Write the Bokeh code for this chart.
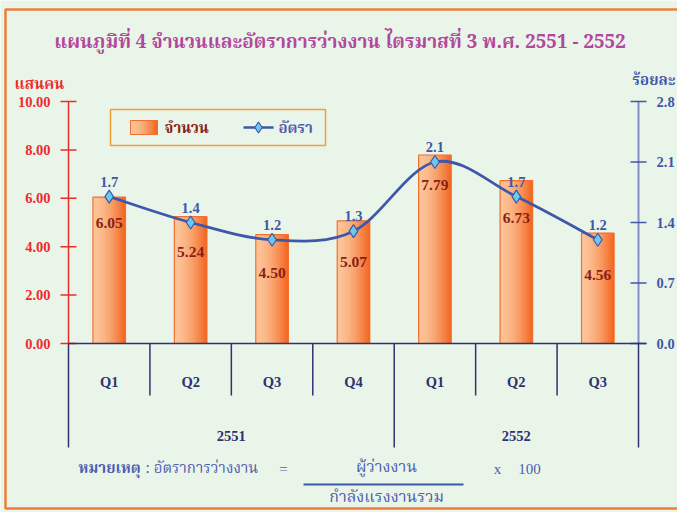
from bokeh.plotting import figure
from bokeh.models import Range1d
from bokeh.core.properties import value
from bokeh.embed import file_html
from bokeh.resources import INLINE

# ---------------- data ----------------
title_text = "แผนภูมิที่ 4 จำนวนและอัตราการว่างงาน ไตรมาสที่ 3  พ.ศ. 2551 - 2552"
years = ["2551", "2552"]
quarters_per_year = [4, 3]
quarters = ["Q1", "Q2", "Q3", "Q4", "Q1", "Q2", "Q3"]
counts = [6.05, 5.24, 4.50, 5.07, 7.79, 6.73, 4.56]
rates = [1.7, 1.4, 1.2, 1.3, 2.1, 1.7, 1.2]
count_ticks = [0, 2, 4, 6, 8, 10]
count_tick_labels = ["0.00", "2.00", "4.00", "6.00", "8.00", "10.00"]
rate_ticks = [0.0, 0.7, 1.4, 2.1, 2.8]
rate_tick_labels = ["0.0", "0.7", "1.4", "2.1", "2.8"]
left_unit = "แสนคน"
right_unit = "ร้อยละ"
legend_labels = ["จำนวน", "อัตรา"]
note_head = "หมายเหตุ"
note_body = ": อัตราการว่างงาน"
note_eq = "="
note_num = "ผู้ว่างงาน"
note_den = "กำลังแรงงานรวม"
note_x = "x"
note_100 = "100"

# ---------------- layout (pixel positions / styles) ----------------
W, H = 677, 512
LEFT, RIGHT = 68, 638
BASE, TOP = 343, 101
N = len(quarters)
YMAX = 10.0
RMAX = 2.8
PXU = (RIGHT - LEFT) / N
PYU = (BASE - TOP) / YMAX
bar_label_offsets = [26, 35, 38, 41, 30, 37, 42]   # px below bar top


def X(px):
    return (px - LEFT) / PXU


def Y(py):
    return (BASE - py) / PYU


BG = "#EAF5EA"
RED = "#EE2B2B"
NAVY = "#2F3170"
BLUE = "#3F57A8"
LBLUE = "#8390C8"
DRED = "#8A1E16"
TITLE_C = "#B2489C"
NOTE_C = "#4F5DAE"
BORDER = "#F07D3C"
SERIF = "Liberation Serif"
THAI = "Noto Serif Thai, Noto Sans Thai, Garuda, Loma, Norasi, Liberation Serif, serif"

p = figure(width=W, height=H, x_range=Range1d(X(0), X(W)), y_range=Range1d(Y(H), Y(0)),
           output_backend="svg", toolbar_location=None, min_border=0,
           x_axis_location=None, y_axis_location=None,
           background_fill_color=BG, border_fill_color=BG, outline_line_color=None)
p.xgrid.visible = False
p.ygrid.visible = False
p.extra_y_ranges = {"rate": Range1d(Y(H) * RMAX / YMAX, Y(0) * RMAX / YMAX)}

# outer orange frame
p.quad(left=[X(5)], right=[X(690)], top=[Y(9)], bottom=[Y(508)], fill_color=None,
       line_color=BORDER, line_width=2.5)

xs = [i + 0.5 for i in range(N)]

# ---------------- bars with gradient ----------------
BW = 0.4
NS = 16
c0 = (253, 196, 152)
c1 = (243, 104, 34)


def grad(k):
    t = (k / (NS - 1)) ** 1.6
    return "#%02x%02x%02x" % tuple(int(c0[j] + (c1[j] - c0[j]) * t) for j in range(3))


sl, sr, st, sc = [], [], [], []
for i, v in enumerate(counts):
    for k in range(NS):
        l = xs[i] - BW / 2 + k * BW / NS
        sl.append(l)
        sr.append(min(l + 2 * BW / NS, xs[i] + BW / 2))
        st.append(v)
        sc.append(grad(k))
p.quad(left=sl, right=sr, top=st, bottom=0, fill_color=sc, line_color=None)
p.vbar(x=xs, top=counts, width=BW, fill_color=None, line_color="#F07030", line_width=1.2)

# ---------------- axes ----------------
p.segment(x0=[0], y0=[0], x1=[0], y1=[YMAX], line_color=RED, line_width=1.5)
p.segment(x0=[X(LEFT - 8)] * len(count_ticks), y0=count_ticks,
          x1=[X(LEFT + 8)] * len(count_ticks), y1=count_ticks, line_color=RED, line_width=1.5)
p.text(x=[X(LEFT - 18)] * len(count_ticks), y=count_ticks, text=count_tick_labels,
       text_font=value(SERIF), text_font_style="bold", text_font_size="14.5px",
       text_color=RED, text_align="right", text_baseline="middle")
p.text(x=[X(14)], y=[Y(84)], text=[left_unit], text_font=value(THAI), text_font_style="bold",
       text_font_size="15px", text_color=RED, text_align="left", text_baseline="middle")

p.segment(x0=[N], y0=[0], x1=[N], y1=[RMAX], y_range_name="rate", line_color=LBLUE, line_width=2)
p.segment(x0=[X(RIGHT - 8)] * len(rate_ticks), y0=rate_ticks,
          x1=[X(RIGHT + 8)] * len(rate_ticks), y1=rate_ticks, y_range_name="rate",
          line_color=BLUE, line_width=1.5)
p.text(x=[X(RIGHT + 18)] * len(rate_ticks), y=rate_ticks, text=rate_tick_labels, y_range_name="rate",
       text_font=value(SERIF), text_font_style="bold", text_font_size="14.5px",
       text_color=BLUE, text_align="left", text_baseline="middle")
p.text(x=[X(675)], y=[Y(80)], text=[right_unit], text_font=value(THAI), text_font_style="bold",
       text_font_size="15px", text_color=BLUE, text_align="right", text_baseline="middle")

# baseline and category separators
p.segment(x0=[0], y0=[0], x1=[X(RIGHT + 8)], y1=[0], line_color=NAVY, line_width=1.5)
year_bounds = [0]
for q in quarters_per_year:
    year_bounds.append(year_bounds[-1] + q)
qb = [b for b in range(N + 1) if b not in year_bounds]
p.segment(x0=qb, y0=[0] * len(qb), x1=qb, y1=[Y(395)] * len(qb), line_color=NAVY, line_width=1.5)
p.segment(x0=year_bounds, y0=[0] * len(year_bounds), x1=year_bounds, y1=[Y(447)] * len(year_bounds),
          line_color=NAVY, line_width=1.5)
p.text(x=xs, y=[Y(381)] * N, text=quarters, text_font=value(SERIF), text_font_style="bold",
       text_font_size="14.5px", text_color=NAVY, text_align="center", text_baseline="middle")
ycent = [(year_bounds[i] + year_bounds[i + 1]) / 2 for i in range(len(years))]
p.text(x=ycent, y=[Y(435)] * len(years), text=years, text_font=value(SERIF), text_font_style="bold",
       text_font_size="14.5px", text_color=NAVY, text_align="center", text_baseline="middle")

# ---------------- bar labels ----------------
p.text(x=xs, y=counts, text=["%.2f" % v for v in counts], y_offset=bar_label_offsets,
       text_font=value(SERIF), text_font_style="bold", text_font_size="15.5px",
       text_color=DRED, text_align="center", text_baseline="middle")

# ---------------- smoothed rate line ----------------
pts = list(zip(xs, rates))
bx0, by0, bx1, by1, cx0, cy0, cx1, cy1 = [], [], [], [], [], [], [], []
for i in range(N - 1):
    pm = pts[max(i - 1, 0)]
    p0 = pts[i]
    p1 = pts[i + 1]
    p2 = pts[min(i + 2, N - 1)]
    bx0.append(p0[0]); by0.append(p0[1]); bx1.append(p1[0]); by1.append(p1[1])
    cx0.append(p0[0] + (p1[0] - pm[0]) / 6); cy0.append(p0[1] + (p1[1] - pm[1]) / 6)
    cx1.append(p1[0] - (p2[0] - p0[0]) / 6); cy1.append(p1[1] - (p2[1] - p0[1]) / 6)
p.bezier(x0=bx0, y0=by0, x1=bx1, y1=by1, cx0=cx0, cy0=cy0, cx1=cx1, cy1=cy1,
         y_range_name="rate", line_color=BLUE, line_width=2.8)
p.scatter(x=xs, y=rates, y_range_name="rate", marker="diamond", size=13,
          fill_color="#6CC8EC", line_color=BLUE, line_width=1.2)
p.text(x=xs, y=rates, y_range_name="rate", text=["%.1f" % v for v in rates], y_offset=-15,
       text_font=value(SERIF), text_font_style="bold", text_font_size="14.5px",
       text_color=BLUE, text_align="center", text_baseline="middle")

# ---------------- legend ----------------
p.quad(left=[X(110)], right=[X(325)], top=[Y(109)], bottom=[Y(145)],
       fill_color=BG, line_color="#F2A030", line_width=1.5)
lg_l, lg_r, lg_c = [], [], []
for k in range(NS):
    l = 130 + k * 27 / NS
    lg_l.append(X(l)); lg_r.append(X(min(l + 2 * 27 / NS, 157)))
    lg_c.append(grad(k))
p.quad(left=lg_l, right=lg_r, top=Y(120), bottom=Y(134), fill_color=lg_c, line_color=None)
p.quad(left=[X(130)], right=[X(157)], top=[Y(120)], bottom=[Y(134)], fill_color=None,
       line_color="#F07030")
p.text(x=[X(164)], y=[Y(128)], text=[legend_labels[0]], text_font=value(THAI), text_font_style="bold",
       text_font_size="15px", text_color=DRED, text_align="left", text_baseline="middle")
p.segment(x0=[X(243)], y0=[Y(127)], x1=[X(273)], y1=[Y(127)], line_color=BLUE, line_width=2.5)
p.scatter(x=[X(258)], y=[Y(127)], marker="diamond", size=11, fill_color="#6CC8EC",
          line_color=BLUE, line_width=1.2)
p.text(x=[X(278)], y=[Y(128)], text=[legend_labels[1]], text_font=value(THAI), text_font_style="bold",
       text_font_size="15px", text_color=NOTE_C, text_align="left", text_baseline="middle")

# ---------------- title ----------------
p.text(x=[X(342)], y=[Y(42)], text=[title_text], text_font=value(THAI), text_font_style="bold",
       text_font_size="19px", text_color=TITLE_C, text_align="center", text_baseline="middle")

# ---------------- note ----------------
p.text(x=[X(78)], y=[Y(468)], text=[note_head], text_font=value(THAI), text_font_style="bold",
       text_font_size="15px", text_color=NOTE_C, text_align="left", text_baseline="middle")
p.text(x=[X(145)], y=[Y(468)], text=[note_body], text_font=value(THAI),
       text_font_size="15px", text_color=NOTE_C, text_align="left", text_baseline="middle")
p.text(x=[X(283)], y=[Y(468)], text=[note_eq], text_font=value(SERIF),
       text_font_size="15px", text_color=NOTE_C, text_align="center", text_baseline="middle")
p.text(x=[X(386)], y=[Y(467)], text=[note_num], text_font=value(THAI),
       text_font_size="16px", text_color=NOTE_C, text_align="center", text_baseline="middle")
p.segment(x0=[X(303)], y0=[Y(484)], x1=[X(463)], y1=[Y(484)], line_color=BLUE, line_width=2)
p.text(x=[X(386)], y=[Y(497)], text=[note_den], text_font=value(THAI),
       text_font_size="16px", text_color=NOTE_C, text_align="center", text_baseline="middle")
p.text(x=[X(497)], y=[Y(468)], text=[note_x], text_font=value(SERIF),
       text_font_size="15px", text_color=NOTE_C, text_align="center", text_baseline="middle")
p.text(x=[X(529)], y=[Y(468)], text=[note_100], text_font=value(SERIF),
       text_font_size="15px", text_color=NOTE_C, text_align="center", text_baseline="middle")

open("out.html", "w").write(file_html(p, INLINE))
